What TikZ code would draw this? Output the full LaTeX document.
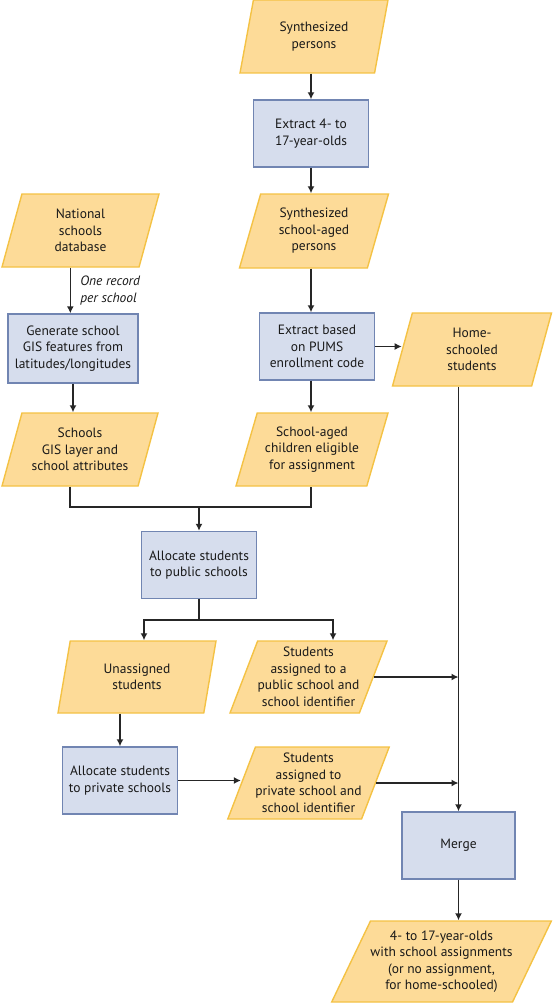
\documentclass[tikz,border=0pt]{standalone}
\usepackage{fontspec}
\setmainfont{PT Sans}
\usetikzlibrary{shapes.geometric,arrows.meta}
\definecolor{datafill}{RGB}{253,219,152}
\definecolor{dataline}{RGB}{244,194,68}
\definecolor{procfill}{RGB}{214,221,237}
\definecolor{procline}{RGB}{113,133,178}
\tikzset{%
  datanode/.style = {shape=trapezium, trapezium left angle=65, trapezium right angle=115,%
                     trapezium stretches body, draw=dataline, fill=datafill, line width=1.4pt,%
                     align=center, inner sep=0pt, minimum width=152pt, minimum height=73pt},%
  procnode/.style = {shape=rectangle, draw=procline, fill=procfill, line width=1.4pt,%
                     align=center, inner sep=0pt, minimum width=115pt, minimum height=67pt},%
  note/.style     = {font=\fontsize{13.5}{16.5}\selectfont\itshape, align=left},%
  flow/.style     = {draw=black!85, line width=1.4pt},%
  arrow/.style    = {flow, -{Latex[length=7pt,width=7pt]}}%
}
\begin{document}
\begin{tikzpicture}[x=1pt,y=-1pt,
	every node/.style = {font=\fontsize{13.5}{16.5}\selectfont, text=black!90}]
	\useasboundingbox (0,0) rectangle (552,1003);
		\node [datanode, minimum width=148pt] (persons) at (314,36.5) {Synthesized\\persons};
		\node [procnode] (extract) at (311,133.5) {Extract 4- to\\17-year-olds};
		\node [datanode, minimum width=149pt, minimum height=74pt] (schoolaged) at (314,231) {Synthesized\\school-aged\\persons};
		\node [procnode] (pums) at (317,346.5) {Extract based\\on PUMS\\enrollment code};
		\node [datanode, minimum width=159pt] (home) at (472,349.5) {Home-\\schooled\\students};
		\node [datanode] (eligible) at (312,449.5) {School-aged\\children eligible\\for assignment};
		\node [datanode, minimum width=157pt] (national) at (80.5,230.5) {National\\schools\\database};
		\node [procnode, minimum width=130pt, minimum height=69pt] (generate) at (73,348.5) {Generate school\\GIS features from\\latitudes/longitudes};
		\node [datanode, minimum width=156pt] (gis) at (80,449.5) {Schools\\GIS layer and\\school attributes};
		\node [procnode] (allocpub) at (199,565) {Allocate students\\to public schools};
		\node [datanode, minimum width=158pt, minimum height=72pt] (unassigned) at (137,677) {Unassigned\\students};
		\node [datanode, minimum width=157pt, minimum height=72pt] (public) at (308.5,677) {Students\\assigned to a\\public school and\\school identifier};
		\node [procnode] (allocpriv) at (120,780.5) {Allocate students\\to private schools};
		\node [datanode, minimum width=157pt, minimum height=72pt] (private) at (308.5,783) {Students\\assigned to\\private school and\\school identifier};
		\node [procnode, minimum width=113pt] (merge) at (458.5,845.5) {Merge};
		\node [datanode, minimum width=209pt, minimum height=81pt,%
		       trapezium left angle=58, trapezium right angle=122] (final) at (441.5,961.5)%
		      {4- to 17-year-olds\\with school assignments\\(or no assignment,\\for home-schooled)};
		\coordinate (join) at (199,507);
		\coordinate (split) at (199,620);
		\draw [arrow] (extract.north |- persons.bottom side) -- (extract.north);
		\draw [arrow] (extract.south) -- (extract.south |- schoolaged.top side);
		\draw [arrow] (extract.south |- schoolaged.bottom side) -- (extract.south |- pums.north);
		\draw [arrow] (extract.south |- pums.south) -- (extract.south |- eligible.top side);
		\draw [arrow] (pums.east) -- (pums.east -| home.left side);
		\draw [arrow] (national.bottom side) -- (national.bottom side |- generate.north)
			node [note, midway, right=6pt] {One record\\per school};
		\draw [arrow] (generate.south) -- (generate.south |- gis.top side);
		\draw [flow] (gis.bottom side) |- (extract.south |- join) -- (extract.south |- eligible.bottom side);
		\draw [arrow] (join) -- (allocpub.north);
		\draw [flow] (allocpub.south) -- (split);
		\draw [arrow] (split) -| ([xshift=7pt]unassigned.north);
		\draw [arrow] (split) -| ([xshift=24.5pt]public.north);
		\draw [arrow] (allocpriv.north |- unassigned.bottom side) -- (allocpriv.north);
		\draw [arrow] (allocpriv.east) -- (allocpriv.east -| private.left side);
		\draw [arrow] (public.right side) -- (public.right side -| merge.north);
		\draw [arrow] (private.right side) -- (private.right side -| merge.north);
		\draw [arrow] (merge.north |- home.bottom side) -- (merge.north);
		\draw [arrow] (merge.south) -- (merge.south |- final.top side);
\end{tikzpicture}
\end{document}
